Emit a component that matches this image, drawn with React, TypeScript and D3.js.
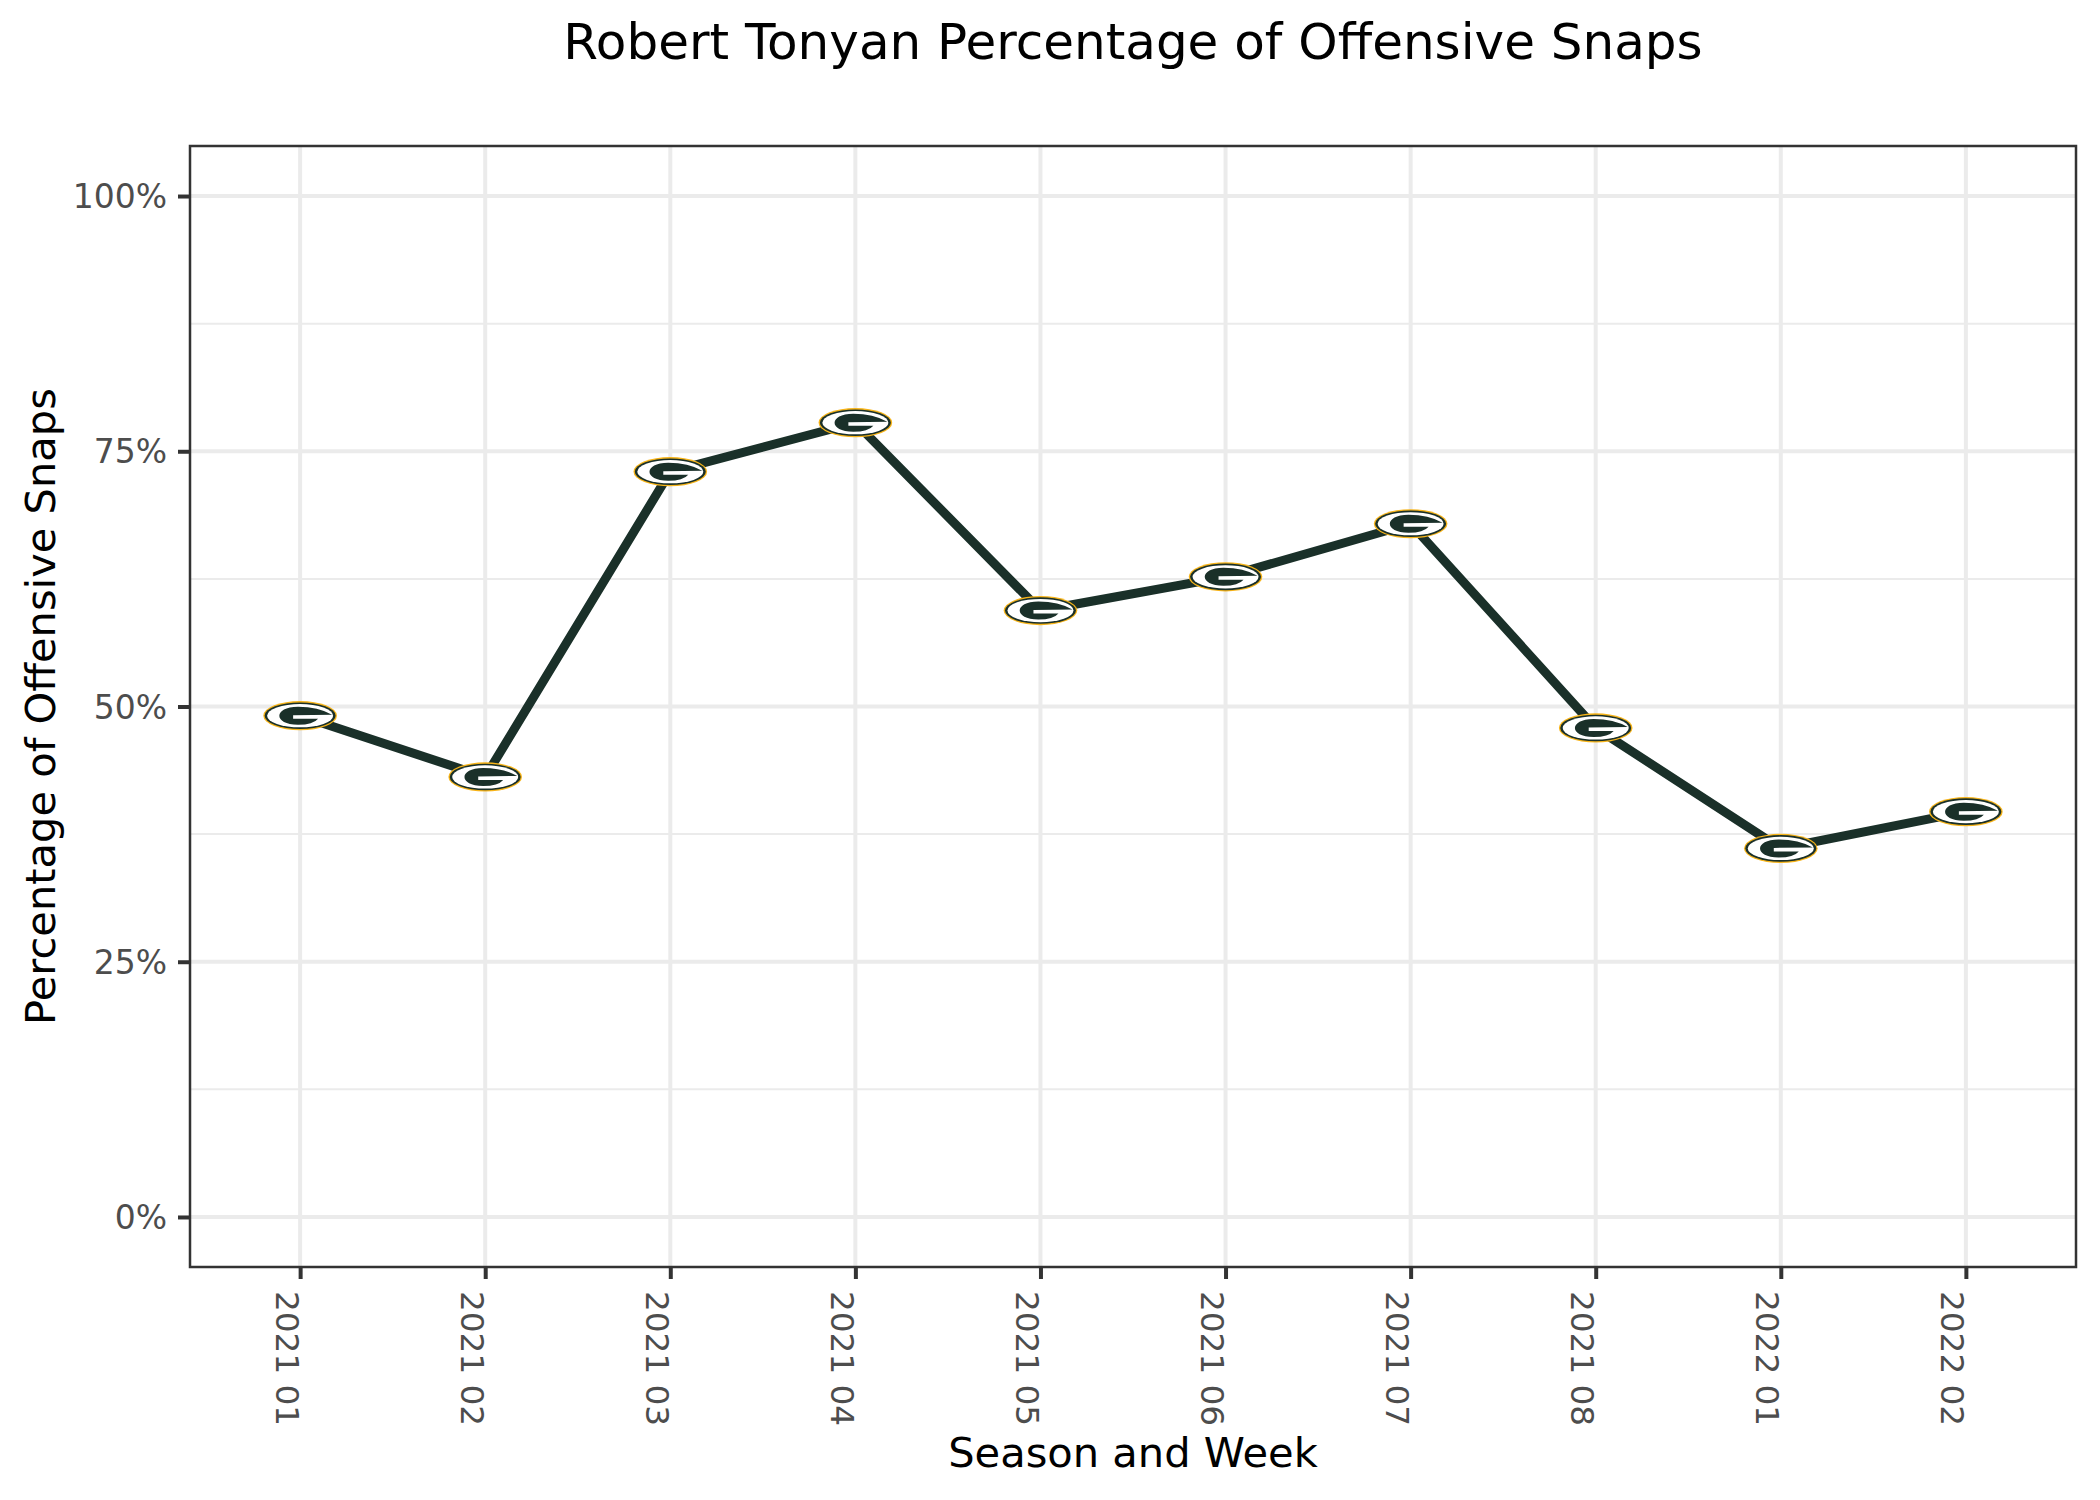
import React, { useEffect, useRef } from "react";
import * as d3 from "d3";

const WIDTH = 2100;
const HEIGHT = 1500;
const MARGIN = { top: 146, right: 24, bottom: 233, left: 190 };

const weeks = ["2021 01", "2021 02", "2021 03", "2021 04", "2021 05", "2021 06", "2021 07", "2021 08", "2022 01", "2022 02"];
const snapPct = [49.1, 43.1, 73.0, 77.8, 59.4, 62.7, 67.9, 47.9, 36.1, 39.7];
const majorTicks = [0, 25, 50, 75, 100];
const minorTicks = [12.5, 37.5, 62.5, 87.5];

const FONT = "'DejaVu Sans', sans-serif";
const GREEN = "#1a3029";
const GOLD = "#f7b419";
const GRID = "#ebebeb";
const PANEL = "#333333";

// rough outline of the team's G, drawn around the point
const G_PATH = "M32,-1 Q18,-9 -2,-9 C-27,-9 -27,9 -2,9 Q13,9 18,3 H-7 V-0.5 Z";

const App = () => {
  const axesRef = useRef<SVGGElement>(null);
  const boundsWidth = WIDTH - MARGIN.left - MARGIN.right;
  const boundsHeight = HEIGHT - MARGIN.top - MARGIN.bottom;

  const xScale = d3.scalePoint().domain(weeks).range([0, boundsWidth]).padding(0.595);
  const yScale = d3.scaleLinear().domain([-4.9, 104.9]).range([boundsHeight, 0]);

  const lineGen = d3
    .line<number>()
    .x((_, i) => xScale(weeks[i]) as number)
    .y((d) => yScale(d));

  useEffect(() => {
    const axes = d3.select(axesRef.current);
    axes.selectAll("*").remove();

    const xAxis = axes
      .append("g")
      .attr("transform", `translate(0,${boundsHeight})`)
      .call(d3.axisBottom(xScale).tickSize(12).tickPadding(0));
    xAxis.select(".domain").remove();
    xAxis.selectAll("line").attr("stroke", PANEL).attr("stroke-width", 4);
    xAxis
      .selectAll("text")
      .attr("transform", "translate(-25,24) rotate(90)")
      .attr("x", 0)
      .attr("y", 0)
      .attr("dy", 0)
      .attr("text-anchor", "start")
      .attr("fill", "#4d4d4d")
      .style("font-family", FONT)
      .style("font-size", "32.7px");

    const yAxis = axes
      .append("g")
      .call(d3.axisLeft(yScale).tickValues(majorTicks).tickSize(12).tickPadding(11).tickFormat((d) => `${d}%`));
    yAxis.select(".domain").remove();
    yAxis.selectAll("line").attr("stroke", PANEL).attr("stroke-width", 4);
    yAxis
      .selectAll("text")
      .attr("y", 1)
      .attr("fill", "#4d4d4d")
      .style("font-family", FONT)
      .style("font-size", "33px");
  }, []);

  return (
    <svg width={WIDTH} height={HEIGHT} style={{ position: "absolute", left: 0, top: 0, background: "#fff" }}>
      <text x={1133} y={59} textAnchor="middle" fontFamily={FONT} fontSize={50} fill="#000">
        Robert Tonyan Percentage of Offensive Snaps
      </text>
      <g transform={`translate(${MARGIN.left},${MARGIN.top})`}>
        {minorTicks.map((t) => (
          <line key={t} x1={0} x2={boundsWidth} y1={yScale(t)} y2={yScale(t)} stroke={GRID} strokeWidth={2} />
        ))}
        {majorTicks.map((t) => (
          <line key={t} x1={0} x2={boundsWidth} y1={yScale(t)} y2={yScale(t)} stroke={GRID} strokeWidth={4} />
        ))}
        {weeks.map((w) => (
          <line key={w} x1={xScale(w)} x2={xScale(w)} y1={0} y2={boundsHeight} stroke={GRID} strokeWidth={4} />
        ))}
        <path d={lineGen(snapPct) as string} fill="none" stroke={GREEN} strokeWidth={9} />
        {snapPct.map((v, i) => (
          <g key={weeks[i]} transform={`translate(${xScale(weeks[i])},${yScale(v)})`}>
            <ellipse rx={36.8} ry={14.6} fill={GOLD} />
            <ellipse rx={35.5} ry={13.3} fill={GREEN} />
            <ellipse rx={33} ry={11.6} fill="#fff" />
            <path d={G_PATH} fill={GREEN} />
          </g>
        ))}
        <rect x={0} y={0} width={boundsWidth} height={boundsHeight} fill="none" stroke={PANEL} strokeWidth={2.5} />
        <g ref={axesRef} />
      </g>
      <text x={1133} y={1467} textAnchor="middle" fontFamily={FONT} fontSize={41.6} fill="#000">
        Season and Week
      </text>
      <text
        transform={`translate(55,${MARGIN.top + boundsHeight / 2}) rotate(-90)`}
        textAnchor="middle"
        fontFamily={FONT}
        fontSize={41.6}
        fill="#000"
      >
        Percentage of Offensive Snaps
      </text>
    </svg>
  );
};

export default App;
